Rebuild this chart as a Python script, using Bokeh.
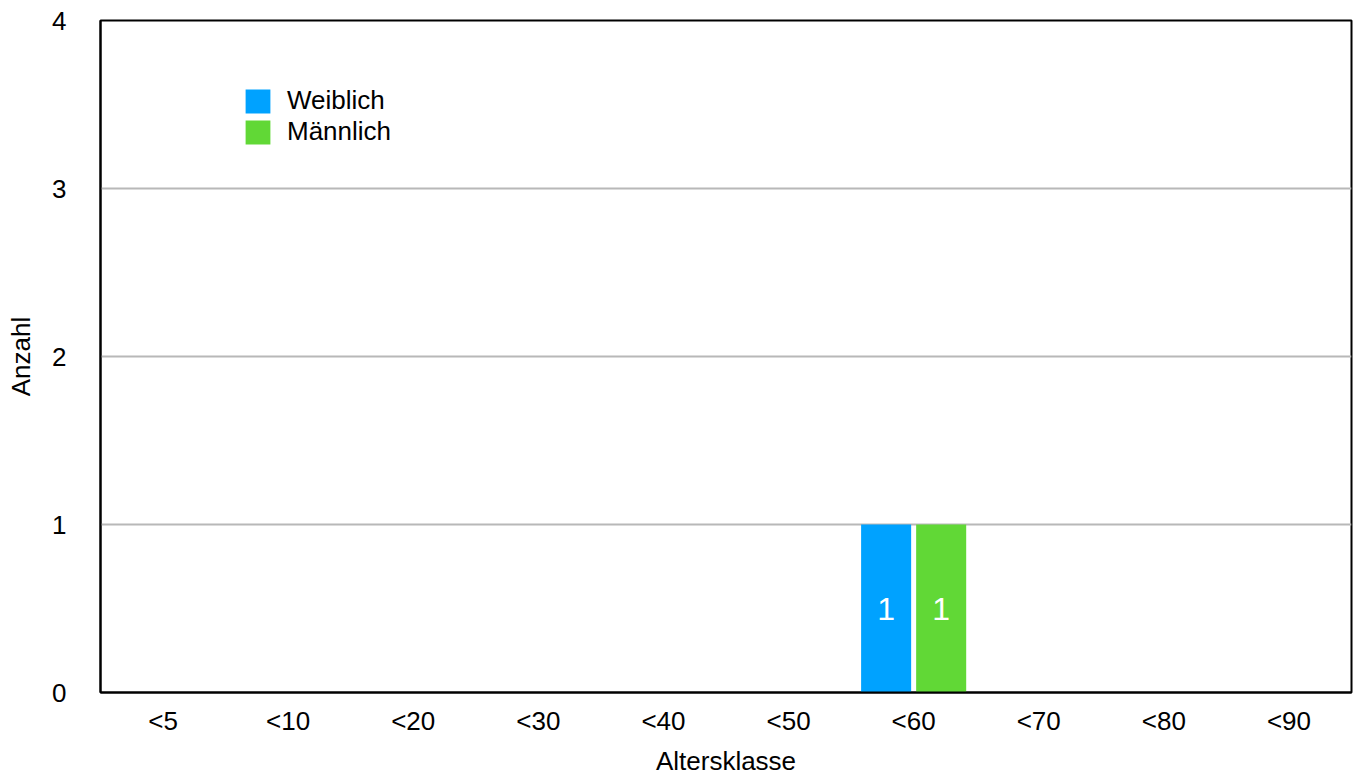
from bokeh.plotting import figure
from bokeh.models import ColumnDataSource, Range1d, Legend, LegendItem
from bokeh.transform import dodge
from bokeh.core.properties import value
from bokeh.embed import file_html
from bokeh.resources import INLINE

# Age classes and counts per sex
klassen = ["<5", "<10", "<20", "<30", "<40", "<50", "<60", "<70", "<80", "<90"]
weiblich = [0, 0, 0, 0, 0, 0, 1, 0, 0, 0]
maennlich = [0, 0, 0, 0, 0, 0, 1, 0, 0, 0]
y_ticks = [0, 1, 2, 3, 4]

FONT = "Liberation Sans"
BLAU = "#00A2FF"
GRUEN = "#61D836"

src = ColumnDataSource(dict(k=klassen, w=weiblich, m=maennlich))

p = figure(
    x_range=klassen, y_range=Range1d(0, 4),
    width=1353, height=778,
    output_backend="svg", toolbar_location=None,
    min_border_left=100, min_border_right=2, min_border_top=20, min_border_bottom=86,
)
p.background_fill_color = "white"
p.border_fill_color = "white"
p.outline_line_color = "black"
p.outline_line_width = 2

r_w = p.vbar(x=dodge("k", -0.22, range=p.x_range), top="w", width=0.4, source=src,
             fill_color=BLAU, line_color=None)
r_m = p.vbar(x=dodge("k", 0.22, range=p.x_range), top="m", width=0.4, source=src,
             fill_color=GRUEN, line_color=None)

# value labels inside the bars (only for non-zero bars)
def label_source(vals):
    ks = [k for k, v in zip(klassen, vals) if v > 0]
    vs = [v for v in vals if v > 0]
    return ColumnDataSource(dict(k=ks, mid=[v / 2 for v in vs], txt=[str(v) for v in vs]))

for vals, off in ((weiblich, -0.22), (maennlich, 0.22)):
    p.text(x=dodge("k", off, range=p.x_range), y="mid", text="txt", source=label_source(vals),
           text_color="white", text_font=value(FONT), text_font_size="32px",
           text_align="center", text_baseline="middle")

p.xgrid.visible = False
p.ygrid.grid_line_color = "#b8b8b8"
p.ygrid.grid_line_width = 2

p.yaxis.ticker = y_ticks
for ax in (p.xaxis[0], p.yaxis[0]):
    ax.axis_line_color = "black"
    ax.axis_line_width = 2
    ax.major_tick_line_color = None
    ax.minor_tick_line_color = None
    ax.major_label_text_font = FONT
    ax.major_label_text_font_size = "26px"
    ax.major_label_text_color = "black"
    ax.axis_label_text_font = FONT
    ax.axis_label_text_font_size = "26px"
    ax.axis_label_text_font_style = "normal"
    ax.axis_label_text_color = "black"

p.yaxis.axis_label = "Anzahl"
p.yaxis.major_label_standoff = 28
p.yaxis.axis_label_standoff = 13
p.xaxis.axis_label = "Altersklasse"
p.xaxis.major_label_standoff = 7
p.xaxis.axis_label_standoff = 7
p.xaxis.axis_label_text_line_height = 0.8

legend = Legend(
    items=[LegendItem(label="Weiblich", renderers=[r_w]),
           LegendItem(label="Männlich", renderers=[r_m])],
    location=(142, 545),
    glyph_width=31, glyph_height=30, spacing=0, padding=0, margin=0,
    label_standoff=14,
    label_text_font=FONT, label_text_font_size="26px", label_text_color="black",
    border_line_alpha=0, background_fill_alpha=0,
)
p.add_layout(legend)

open("out.html", "w").write(file_html(p, INLINE))
